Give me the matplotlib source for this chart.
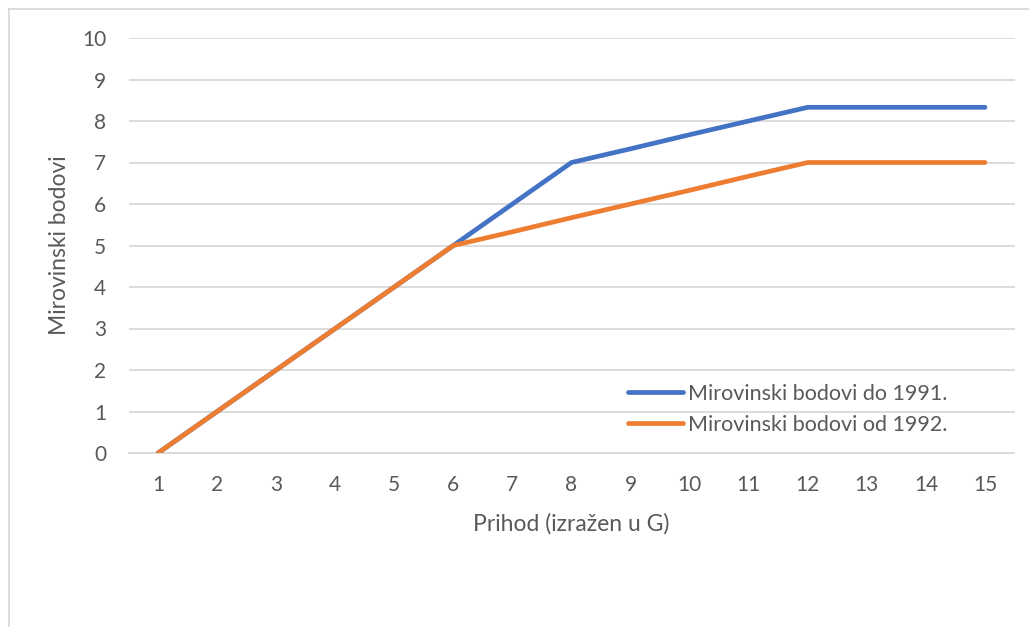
import matplotlib.pyplot as plt
from matplotlib.lines import Line2D

plt.rcParams['font.family'] = ['Lato', 'DejaVu Sans']

# data
prihod = ['1', '2', '3', '4', '5', '6', '7', '8', '9', '10', '11', '12', '13', '14', '15']
bodovi_do_1991 = [0, 1, 2, 3, 4, 5, 6, 7, 7.33, 7.67, 8, 8.33, 8.33, 8.33, 8.33]
bodovi_od_1992 = [0, 1, 2, 3, 4, 5, 5.33, 5.67, 6, 6.33, 6.67, 7, 7, 7, 7]
legend_labels = ['Mirovinski bodovi do 1991.', 'Mirovinski bodovi od 1992.']

W, H = 1029, 627
TXT = '#595959'
GRID = '#d9d9d9'

fig = plt.figure(figsize=(W / 100, H / 100), dpi=100)
ax = fig.add_axes([128.5 / W, 1 - 453 / H, (1014.5 - 128.5) / W, (453 - 38) / H])

x = list(range(len(prihod)))
ax.plot(x, bodovi_do_1991, color='#4472C4', lw=3.4, solid_capstyle='round', zorder=3)
ax.plot(x, bodovi_od_1992, color='#ED7D31', lw=3.4, solid_capstyle='round', zorder=4)

ax.set_xlim(-0.5, len(prihod) - 0.5)
ax.set_ylim(0, 10)
ax.set_yticks(range(0, 11))
ax.set_xticks(x)
ax.set_xticklabels(prihod)
ax.grid(axis='y', color=GRID, lw=1.3)
ax.set_axisbelow(True)
for s in ['top', 'right', 'left']:
    ax.spines[s].set_visible(False)
ax.spines['bottom'].set_color(GRID)
ax.spines['bottom'].set_linewidth(1.3)
ax.tick_params(length=0, labelcolor=TXT, labelsize=15)
ax.tick_params(axis='y', pad=16)
ax.tick_params(axis='x', pad=16)

fig.text(60 / W, 1 - 245 / H, 'Mirovinski bodovi', rotation=90, ha='center', va='center',
         color=TXT, fontsize=16.5)
fig.text(571 / W, 1 - 524 / H, 'Prihod (izražen u G)', ha='center', va='center',
         color=TXT, fontsize=16.5)

handles = [Line2D([], [], color='#4472C4', lw=3.4, solid_capstyle='round'),
           Line2D([], [], color='#ED7D31', lw=3.4, solid_capstyle='round')]
leg = fig.legend(handles, legend_labels, loc='upper left', bbox_to_anchor=(628 / W, 1 - 384 / H),
                 frameon=False, fontsize=15.5, handlelength=2.55, handletextpad=0.25,
                 labelspacing=0.5, borderpad=0, borderaxespad=0)
for t in leg.get_texts():
    t.set_color(TXT)

# chart frame (left and top edges visible)
fig.add_artist(Line2D([8.5 / W, 8.5 / W], [0, 1 - 8.5 / H], color=GRID, lw=1.3))
fig.add_artist(Line2D([8.5 / W, 1], [1 - 8.5 / H, 1 - 8.5 / H], color=GRID, lw=1.3))

fig.savefig('out.png', dpi=100)
